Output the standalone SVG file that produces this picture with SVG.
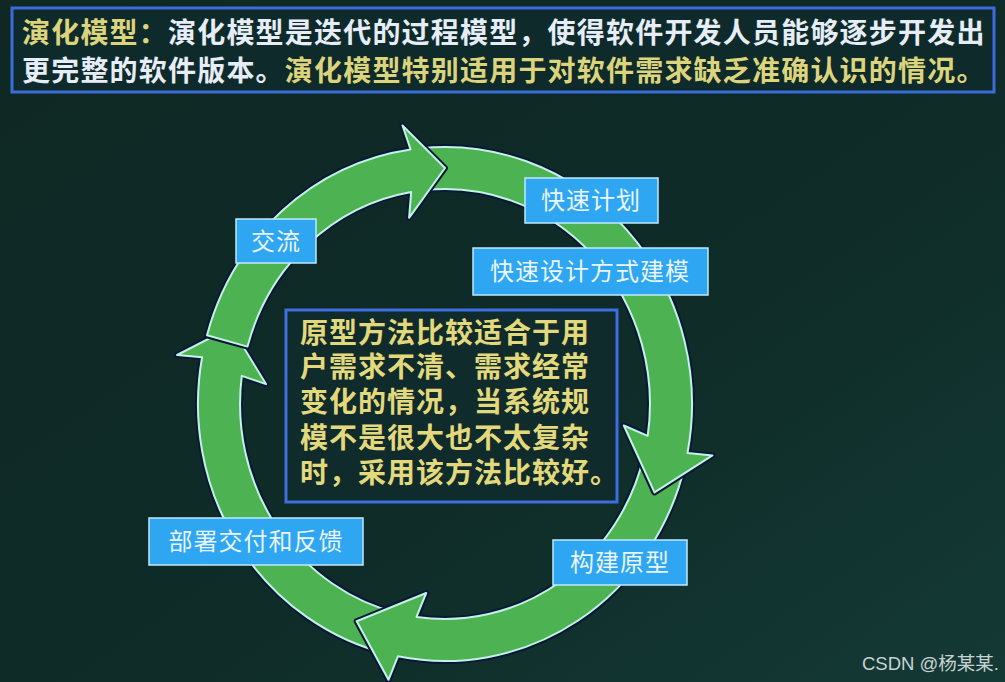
<svg xmlns="http://www.w3.org/2000/svg" width="1005" height="682" viewBox="0 0 1005 682">
<defs>
<linearGradient id="bg" x1="0" y1="0" x2="1" y2="1">
<stop offset="0" stop-color="#0f2824"/>
<stop offset="0.6" stop-color="#0f2c28"/>
<stop offset="1" stop-color="#143a36"/>
</linearGradient>
<style>
.cjk{font-family:"Liberation Sans","Noto Sans CJK SC",sans-serif;}
.hdr{font-size:28px;font-weight:bold;letter-spacing:1.2px;}
.yel{fill:#dcd47c;}
.wht{fill:#e6edf6;}
.shadow{fill:none;stroke:#0a1838;stroke-width:6;stroke-linejoin:round;}
.arrow{fill:#4db251;stroke:#c4f2e6;stroke-width:2;stroke-linejoin:round;}
.lbl rect{fill:#2fa6f2;stroke:#bfe9ff;stroke-width:1.5;}
.lbl text{font-size:24px;fill:#e9f5ff;letter-spacing:1px;text-anchor:middle;}
.note{font-size:28px;font-weight:bold;fill:#e3d97c;letter-spacing:1px;}
</style>
</defs>
<rect width="1005" height="682" fill="url(#bg)"/>

<g id="header">
<rect x="12" y="8" width="982" height="84" fill="#0e2a2a" stroke="#3b6cd8" stroke-width="3"/>
<text class="cjk hdr" x="22" y="43"><tspan class="yel">演化模型：</tspan><tspan class="wht">演化模型是迭代的过程模型，使得软件开发人员能够逐步开发出</tspan></text>
<text class="cjk hdr" x="22" y="81"><tspan class="wht">更完整的软件版本。</tspan><tspan class="yel">演化模型特别适用于对软件需求缺乏准确认识的情况。</tspan></text>
</g>

<g id="connectors">
<path id="arrowD-s" class="shadow" d="M389.4,654.4 A247,257 0 0 1 202.1,357.2 L177.1,355.0 L231.3,327.2 L266.0,384.1 L241.8,375.9 A205,215 0 0 0 398.9,613.5 Z"/>
<path id="arrowD" class="arrow" d="M389.4,654.4 A247,257 0 0 1 202.1,357.2 L177.1,355.0 L231.3,327.2 L266.0,384.1 L241.8,375.9 A205,215 0 0 0 398.9,613.5 Z"/>
<path id="arrowC-s" class="shadow" d="M684.7,466.2 A247,257 0 0 1 397.9,656.3 L388.5,679.8 L356.7,621.2 L426.2,593.0 L416.5,616.9 A205,215 0 0 0 643.9,456.0 Z"/>
<path id="arrowC" class="arrow" d="M684.7,466.2 A247,257 0 0 1 397.9,656.3 L388.5,679.8 L356.7,621.2 L426.2,593.0 L416.5,616.9 A205,215 0 0 0 643.9,456.0 Z"/>
<path id="arrowB-s" class="shadow" d="M419.2,148.4 A247,257 0 0 1 687.5,453.0 L712.5,455.4 L654.5,492.4 L623.8,425.5 L647.7,435.8 A205,215 0 0 0 423.6,190.2 Z"/>
<path id="arrowB" class="arrow" d="M419.2,148.4 A247,257 0 0 1 687.5,453.0 L712.5,455.4 L654.5,492.4 L623.8,425.5 L647.7,435.8 A205,215 0 0 0 423.6,190.2 Z"/>
<path id="arrowA-s" class="shadow" d="M207.0,335.3 A247,257 0 0 1 410.6,149.5 L402.5,125.5 L445,168 L409.1,217.8 L411.2,191.9 A205,215 0 0 0 247.5,346.6 Z"/>
<path id="arrowA" class="arrow" d="M207.0,335.3 A247,257 0 0 1 410.6,149.5 L402.5,125.5 L445,168 L409.1,217.8 L411.2,191.9 A205,215 0 0 0 247.5,346.6 Z"/>
</g>

<g id="note">
<rect x="286" y="310" width="331" height="192" fill="#0f2b2b" stroke="#3d6fe0" stroke-width="3"/>
<text class="cjk note" x="300" y="343">原型方法比较适合于用</text>
<text class="cjk note" x="300" y="377">户需求不清、需求经常</text>
<text class="cjk note" x="300" y="412">变化的情况，当系统规</text>
<text class="cjk note" x="300" y="448">模不是很大也不太复杂</text>
<text class="cjk note" x="300" y="483">时，采用该方法比较好。</text>
</g>

<g id="node-jiaoliu" class="lbl cjk">
<rect x="236" y="219" width="80" height="44"/>
<text x="276" y="250">交流</text>
</g>
<g id="node-kuaisujihua" class="lbl cjk">
<rect x="525" y="178" width="133" height="45"/>
<text x="591" y="209">快速计划</text>
</g>
<g id="node-kuaisusheji" class="lbl cjk">
<rect x="473" y="248" width="235" height="47"/>
<text x="590" y="280">快速设计方式建模</text>
</g>
<g id="node-goujian" class="lbl cjk">
<rect x="553" y="540" width="134" height="45"/>
<text x="620" y="571">构建原型</text>
</g>
<g id="node-bushu" class="lbl cjk">
<rect x="149" y="518" width="214" height="47"/>
<text x="256" y="550">部署交付和反馈</text>
</g>

<text x="862" y="670" font-family="'Liberation Sans','Noto Sans CJK SC',sans-serif" font-size="18.5" fill="#c9d2d2">CSDN @杨某某.</text>
</svg>
